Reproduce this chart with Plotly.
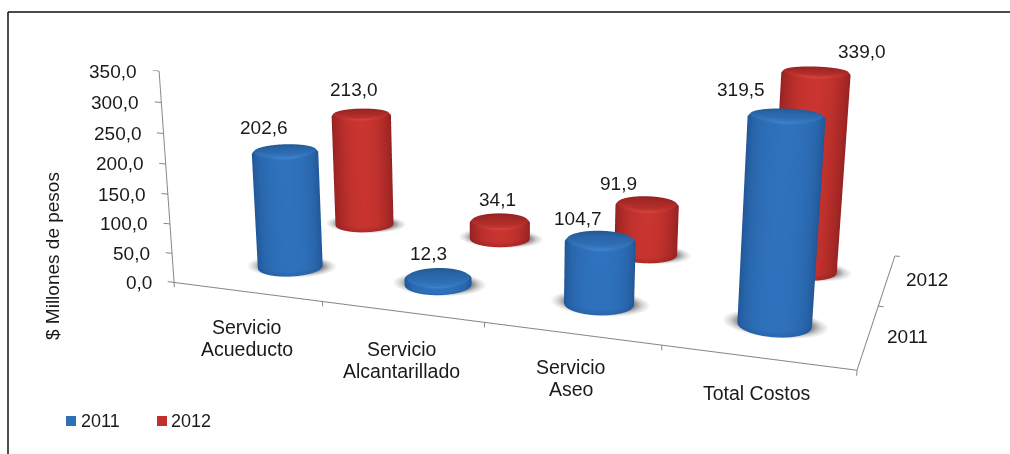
import numpy as np
import plotly.graph_objects as go

categories = [["Servicio", "Acueducto"], ["Servicio", "Alcantarillado"], ["Servicio", "Aseo"], ["Total Costos"]]
series_names = ["2011", "2012"]
values_2011 = [202.6, 12.3, 104.7, 319.5]
values_2012 = [213.0, 34.1, 91.9, 339.0]
z_ticks = [0, 50, 100, 150, 200, 250, 300, 350]

# axis ranges leave a little room for the tick marks outside the plot box
x_range = [-0.1, 4.1]
y_range = [0, 2]
z_range = [-15, 350]

# scene proportions and camera
ax_ratio = 2.0*(x_range[1]-x_range[0])/4
ay = 1.0369
az_base = 0.6381
az = az_base*(z_range[1]-z_range[0])/350
lift = 7.5/350*az_base
E = np.array([1.2832, -3.7743, 0.9483+lift])
C = np.array([-0.0700, -0.1710, -0.1460+lift])
UP = np.array([0.0218, -0.0571, 1.0])
focal_px = 1350.2
fovy = 2*np.arctan(227/focal_px)

blue_side = [[0,"#1f5190"],[0.5,"#2967ad"],[0.8,"#2f72bd"],[1,"#4186d3"]]
blue_cap = [[0,"#22568f"],[0.5,"#2b69ae"],[1,"#3a7dc7"]]
red_side = [[0,"#8c2020"],[0.5,"#ad2a27"],[0.8,"#c93530"],[1,"#d9443f"]]
red_cap = [[0,"#8f2120"],[0.5,"#ab2a27"],[1,"#c83a35"]]
shadow_scale = [[0,"#ffffff"],[0.5,"#d5d5d5"],[1,"#8c8c8c"]]
flat = dict(ambient=1, diffuse=0, specular=0, roughness=1, fresnel=0)
rx, ry = 0.20, 0.19
theta = np.linspace(0, 2*np.pi, 73)

fig = go.Figure()

def add_bar(cx, cy, v, side, cap):
    # shade the wall by how squarely it faces the camera
    Rx, Ry = rx*ax_ratio/(x_range[1]-x_range[0]), ry*ay/2
    wc = np.array([(cx-2)/(x_range[1]-x_range[0])*ax_ratio, (cy-1)/2*ay])
    view = E[:2]-wc; view = view/np.linalg.norm(view)
    nx, ny = np.cos(theta)/Rx, np.sin(theta)/Ry
    nn = np.hypot(nx, ny)
    facing = nx/nn*view[0]+ny/nn*view[1]
    t = np.clip(facing, 0, 1)**1.1
    bevel = min(4.0, v*.2)
    foot = min(10.0, v*.3)
    zs = np.array([0, foot, v-bevel, v])
    scale = np.array([1, 1, 1, .94])
    X = cx+rx*np.outer(scale, np.cos(theta))
    Y = cy+ry*np.outer(scale, np.sin(theta))
    Z = np.outer(zs, np.ones_like(theta))
    S = np.vstack([t*.5, t*.78, t*.8, np.maximum(t, .25)])
    fig.add_trace(go.Surface(x=X, y=Y, z=Z, surfacecolor=S, colorscale=side, cmin=0, cmax=1,
                             showscale=False, lighting=flat, hoverinfo="skip"))
    radii = np.array([0, .5, .8, .94])
    X = cx+rx*np.outer(radii, np.cos(theta))
    Y = cy+ry*np.outer(radii, np.sin(theta))
    Z = np.full_like(X, v)
    S = .5+.5*np.outer((radii/.94)**2, facing)
    fig.add_trace(go.Surface(x=X, y=Y, z=Z, surfacecolor=S, colorscale=cap, cmin=0, cmax=1,
                             showscale=False, lighting=flat, hoverinfo="skip"))

def add_shadow(cx, cy):
    radii = np.array([0, .7, .85, 1.0, 1.15, 1.3, 1.45])
    X = cx+rx*np.outer(radii, np.cos(theta))
    Y = cy+.1*ry+ry*.8*np.outer(radii, np.sin(theta))
    Z = np.zeros_like(X)
    S = np.outer(np.clip((1.45-radii)/.45, 0, 1), np.ones_like(theta))
    fig.add_trace(go.Surface(x=X, y=Y, z=Z, surfacecolor=S, colorscale=shadow_scale, cmin=0, cmax=1,
                             showscale=False, lighting=flat, hoverinfo="skip"))

for j, (vals, side, cap) in enumerate([(values_2012, red_side, red_cap), (values_2011, blue_side, blue_cap)]):
    cy = 1.5-j
    for i, v in enumerate(vals):
        add_shadow(i+.5, cy)
        add_bar(i+.5, cy, v, side, cap)

# axis lines with their tick marks
def add_axis(xs, ys, zs):
    fig.add_trace(go.Scatter3d(x=xs, y=ys, z=zs, mode="lines", line=dict(color="#868686", width=2),
                               hoverinfo="skip", showlegend=False))

xs, ys, zs = [0, 4, None], [0, 0, None], [0, 0, None]
for i in range(5):
    xs += [i, i, None]; ys += [0, 0, None]; zs += [0, -8, None]
add_axis(xs, ys, zs)
xs, ys, zs = [4, 4, None], [0, 2, None], [0, 0, None]
for j in (1, 2):
    xs += [4, 4.03, None]; ys += [j, j, None]; zs += [0, 0, None]
add_axis(xs, ys, zs)
xs, ys, zs = [0, 0, None], [0, 0, None], [0, 350, None]
for t in z_ticks:
    xs += [0, -0.045, None]; ys += [0, 0, None]; zs += [t, t, None]
add_axis(xs, ys, zs)

FAMILY = "Liberation Sans, Arial, sans-serif"
font = dict(family=FAMILY, size=19, color="#1a1a1a")
notes = []
label_shift_2011 = [(-21,-23),(-10,-24),(-22,-21),(-45,-26)]
label_shift_2012 = [(-7,-24),(-2,-21),(-29,-20),(46,-20)]
for j, (vals, shifts) in enumerate([(values_2011, label_shift_2011), (values_2012, label_shift_2012)]):
    for i, v in enumerate(vals):
        notes.append(dict(x=i+.5, y=j+.5, z=v, text=f"{v:.1f}".replace(".", ","), showarrow=False,
                          xshift=shifts[i][0], yshift=-shifts[i][1], font=font))
cat_shift = [46.5, 48, 44.5, 36]
for i, lines in enumerate(categories):
    for k, line in enumerate(lines):
        off = cat_shift[i]+(k-(len(lines)-1)/2)*22
        notes.append(dict(x=i+.5, y=0, z=0, text=line, showarrow=False, yshift=-off, font=dict(font, size=19.5)))
for j, (name, sh) in enumerate(zip(series_names, [39, 40])):
    notes.append(dict(x=4, y=j+.5, z=0, text=name, showarrow=False, xshift=sh, font=font))
for t in z_ticks:
    notes.append(dict(x=0, y=0, z=t, text=f"{t:.1f}".replace(".", ","), showarrow=False, xanchor="right", xshift=-20, font=font))

axis = dict(showgrid=False, zeroline=False, showbackground=False, showspikes=False, showline=False,
            ticks="", title=dict(text=""), autorange=False, showticklabels=False)

legend_notes = [dict(xref="paper", yref="paper", x=x/1010, y=1-421/454, xanchor="left", yanchor="middle", text=name,
                     showarrow=False, font=dict(font, size=18))
                for x, name in zip([79, 169], series_names)]
legend_keys = [dict(type="rect", xref="paper", yref="paper", x0=x/1010, x1=(x+10)/1010, y0=1-426/454, y1=1-416/454,
                    fillcolor=col, line=dict(width=0))
               for x, col in zip([66, 157], ["#2f6fb7", "#c0312e"])]

fig.update_layout(
    width=1010, height=454, margin=dict(l=0, r=0, t=0, b=0), paper_bgcolor="white", separators=",.",
    font=font, showlegend=False,
    scene=dict(
        domain=dict(x=[0,1], y=[0,1]),
        aspectmode="manual", aspectratio=dict(x=ax_ratio, y=ay, z=az),
        camera=dict(eye=dict(x=E[0], y=E[1], z=E[2]),
                    center=dict(x=C[0], y=C[1], z=C[2]),
                    up=dict(x=UP[0], y=UP[1], z=UP[2]),
                    projection=dict(type="perspective")),
        xaxis=dict(axis, range=x_range),
        yaxis=dict(axis, range=y_range),
        zaxis=dict(axis, range=z_range),
        annotations=notes,
    ),
    annotations=[dict(xref="paper", yref="paper", x=52/1010, y=1-256/454, xanchor="center", yanchor="middle",
                      text="$ Millones de pesos", textangle=-90, showarrow=False, font=font)]+legend_notes,
    shapes=[dict(type="line", xref="paper", yref="paper", x0=8/1010, x1=1, y0=1-12/454, y1=1-12/454, line=dict(color="#111", width=1.5)),
            dict(type="line", xref="paper", yref="paper", x0=8/1010, x1=8/1010, y0=1-12/454, y1=0, line=dict(color="#111", width=1.5))]+legend_keys,
)
# narrow the WebGL field of view once the scene exists
post = """
var gd = document.getElementById('{plot_id}');
var gl3d = gd._fullLayout.scene._scene.glplot;
gl3d.fovy = %f;
gl3d.redraw();
""" % fovy
fig.write_html("out.html", post_script=post)
